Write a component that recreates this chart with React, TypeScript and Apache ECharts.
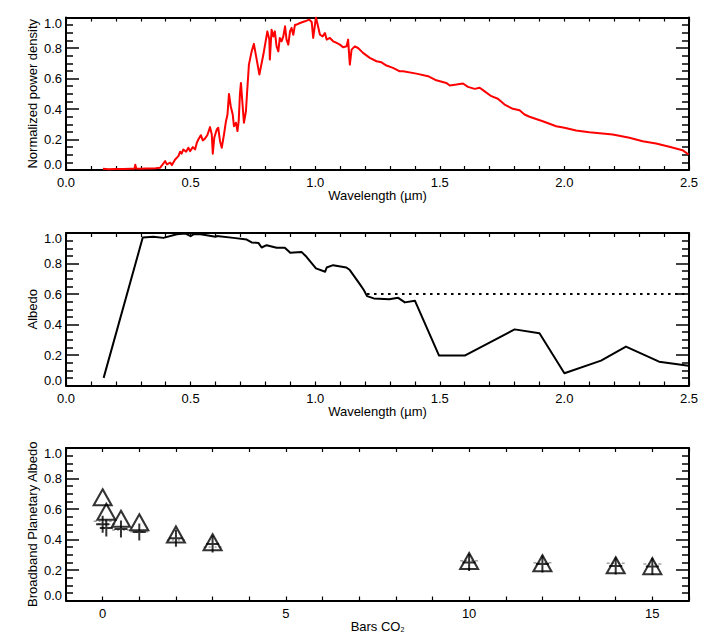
import React, { useEffect, useRef } from "react";
import * as echarts from "echarts";

// ---------- DATA ----------
// Panel 1: normalized solar power density vs wavelength (µm)
const solarSpectrum: [number, number][] = [
  [0.148, 0.008], [0.17, 0.005], [0.2, 0.006], [0.23, 0.006], [0.26, 0.008], [0.275, 0.009],
  [0.278, 0.035], [0.282, 0.01], [0.3, 0.009], [0.32, 0.01], [0.338, 0.01], [0.36, 0.012],
  [0.378, 0.015], [0.398, 0.058], [0.405, 0.037], [0.418, 0.048], [0.425, 0.032], [0.438, 0.069],
  [0.451, 0.091], [0.458, 0.12], [0.464, 0.107], [0.471, 0.135], [0.482, 0.12], [0.491, 0.146],
  [0.498, 0.124], [0.509, 0.15], [0.518, 0.135], [0.525, 0.179], [0.531, 0.2], [0.541, 0.228],
  [0.549, 0.194], [0.558, 0.207], [0.567, 0.228], [0.578, 0.281], [0.585, 0.233], [0.589, 0.107],
  [0.595, 0.211], [0.605, 0.266], [0.611, 0.277], [0.618, 0.189], [0.625, 0.146], [0.634, 0.233],
  [0.642, 0.32], [0.648, 0.364], [0.654, 0.499], [0.661, 0.418], [0.669, 0.364], [0.674, 0.287],
  [0.682, 0.31], [0.688, 0.255], [0.693, 0.32], [0.698, 0.499], [0.702, 0.571], [0.709, 0.418],
  [0.714, 0.31], [0.722, 0.385], [0.727, 0.516], [0.734, 0.691], [0.745, 0.778], [0.754, 0.827],
  [0.764, 0.735], [0.776, 0.626], [0.792, 0.757], [0.808, 0.909], [0.816, 0.855], [0.818, 0.724],
  [0.825, 0.92], [0.832, 0.876], [0.838, 0.909], [0.845, 0.811], [0.852, 0.778], [0.858, 0.866],
  [0.865, 0.844], [0.872, 0.876], [0.879, 0.942], [0.885, 0.855], [0.892, 0.822], [0.899, 0.909],
  [0.905, 0.931], [0.912, 0.887], [0.919, 0.953], [0.925, 0.953], [0.939, 0.964], [0.959, 0.975],
  [0.976, 0.986], [0.986, 0.97], [0.992, 0.866], [0.999, 0.953], [1.003, 1.0], [1.01, 0.953],
  [1.019, 0.887], [1.03, 0.876], [1.039, 0.898], [1.046, 0.855], [1.059, 0.866], [1.072, 0.844],
  [1.086, 0.833], [1.099, 0.822], [1.112, 0.805], [1.126, 0.811], [1.132, 0.855], [1.139, 0.691],
  [1.146, 0.789], [1.159, 0.811], [1.172, 0.8], [1.192, 0.768], [1.219, 0.735], [1.246, 0.713],
  [1.266, 0.706], [1.286, 0.685], [1.312, 0.67], [1.326, 0.658], [1.339, 0.647], [1.353, 0.647],
  [1.406, 0.632], [1.453, 0.615], [1.486, 0.588], [1.526, 0.571], [1.54, 0.554], [1.567, 0.56],
  [1.593, 0.567], [1.613, 0.545], [1.64, 0.532], [1.66, 0.539], [1.68, 0.516], [1.707, 0.484],
  [1.733, 0.467], [1.76, 0.429], [1.793, 0.401], [1.82, 0.392], [1.84, 0.364], [1.86, 0.349],
  [1.913, 0.32], [1.967, 0.287], [2.0, 0.277], [2.047, 0.259], [2.1, 0.248], [2.194, 0.233],
  [2.261, 0.211], [2.314, 0.189], [2.368, 0.174], [2.421, 0.152], [2.474, 0.13], [2.498, 0.102],
];

// Panel 2: surface albedo vs wavelength (µm)
const surfaceAlbedo: [number, number][] = [
  [0.151, 0.05], [0.308, 0.97], [0.351, 0.975], [0.391, 0.968], [0.445, 0.992], [0.478, 0.997],
  [0.5, 0.979], [0.513, 0.992], [0.54, 0.992], [0.6, 0.975], [0.605, 0.98], [0.672, 0.968],
  [0.725, 0.957], [0.745, 0.938], [0.772, 0.935], [0.785, 0.905], [0.805, 0.92], [0.845, 0.903],
  [0.878, 0.903], [0.9, 0.87], [0.945, 0.876], [0.965, 0.844], [1.003, 0.768], [1.04, 0.746],
  [1.046, 0.774], [1.072, 0.789], [1.125, 0.774], [1.139, 0.757], [1.179, 0.665], [1.195, 0.626],
  [1.208, 0.586], [1.235, 0.571], [1.297, 0.565], [1.333, 0.575], [1.36, 0.545], [1.4, 0.556],
  [1.497, 0.196], [1.6, 0.196], [1.8, 0.368], [1.9, 0.342], [2.0, 0.08], [2.147, 0.163],
  [2.247, 0.255], [2.38, 0.156], [2.498, 0.13],
];
const constantAlbedo: [number, number][] = [[1.208, 0.6], [2.5, 0.6]];

// Panel 3: broadband planetary albedo vs bars CO2
const barsCO2 = [0, 0.1, 0.5, 1, 2, 3, 10, 12, 14, 15];
const triangleAlbedo = [0.677, 0.582, 0.536, 0.513, 0.433, 0.382, 0.259, 0.244, 0.231, 0.225];
const plusAlbedo = [0.5, 0.475, 0.469, 0.449, 0.408, 0.37, 0.249, 0.24, 0.226, 0.223];
const dashAlbedo = [0.52, 0.5, 0.462, 0.451, 0.397, 0.351, 0.261, 0.248, 0.244, 0.24];

const yTickValues = [0, 0.2, 0.4, 0.6, 0.8, 1.0];

// ---------- STYLE ----------
const FONT = '"Liberation Sans", Arial, Helvetica, sans-serif';
const FS = 13;
const GRID_LEFT = 66;
const GRID_WIDTH = 623;
const GRID_HEIGHT = 152.5;
const GRID_TOPS = [17.5, 233, 448];

const PLUS_PATH = "path://M5.5,0h2v17h-2z M0,7.5h13v2h-13z";
const DASH_PATH = "path://M0,0h3v1.5h-3z M5,0h2v1.5h-2z M11,0h2v1.5h-2z M15,0h3v1.5h-3z";

function isMultiple(v: number, step: number) {
  const r = v / step;
  return Math.abs(r - Math.round(r)) < 1e-6;
}

function makeXAxes(
  gridIndex: number,
  min: number,
  max: number,
  interval: number,
  labelStep: number,
  decimals: number,
  name: string,
  nameRich?: any
) {
  const common = {
    type: "value",
    gridIndex,
    min,
    max,
    interval,
    splitLine: { show: false },
    axisLine: { show: true, onZero: false, lineStyle: { color: "#000", width: 2 } },
    axisTick: { show: true, inside: true, length: 4, lineStyle: { color: "#000", width: 1.2 } },
  };
  return [
    {
      ...common,
      position: "bottom",
      name,
      nameLocation: "middle",
      nameGap: 19,
      nameMoveOverlap: false,
      nameTextStyle: {
        fontFamily: FONT,
        fontSize: FS,
        color: "#000",
        rich: nameRich,
      },
      axisLabel: {
        show: true,
        margin: 6,
        fontFamily: FONT,
        fontSize: FS,
        color: "#000",
        formatter: (v: number) => (isMultiple(v, labelStep) ? v.toFixed(decimals) : ""),
      },
    },
    {
      ...common,
      position: "top",
      axisLabel: { show: false },
    },
  ];
}

function makeYAxes(gridIndex: number, name: string) {
  const common = {
    type: "value",
    gridIndex,
    min: 0,
    max: 1,
    interval: 0.2,
    splitLine: { show: false },
    minorSplitLine: { show: false },
    axisLine: { show: true, onZero: false, lineStyle: { color: "#000", width: 2 } },
    axisTick: { show: true, inside: true, length: 13, lineStyle: { color: "#000", width: 1.5 } },
    minorTick: { show: true, splitNumber: 4, length: 7, lineStyle: { color: "#000", width: 1.5 } },
  };
  return [
    {
      ...common,
      position: "left",
      name,
      nameLocation: "middle",
      nameGap: 27,
      nameMoveOverlap: false,
      nameTextStyle: { fontFamily: FONT, fontSize: FS, color: "#000" },
      axisLabel: {
        show: true,
        margin: 4,
        fontFamily: FONT,
        fontSize: FS,
        color: "#000",
        customValues: yTickValues,
        formatter: (v: number) => {
          if (Math.abs(v) < 1e-9) return "{lo|0.0}";
          if (Math.abs(v - 1) < 1e-9) return "{hi|1.0}";
          return v.toFixed(1);
        },
        rich: {
          lo: { fontFamily: FONT, fontSize: FS, color: "#000", padding: [0, 0, 11, 0] },
          hi: { fontFamily: FONT, fontSize: FS, color: "#000", padding: [11, 0, 0, 0] },
        },
      },
    },
    {
      ...common,
      position: "right",
      axisLabel: { show: false },
    },
  ];
}

export default function App() {
  const ref = useRef<HTMLDivElement>(null);

  useEffect(() => {
    if (!ref.current) return;
    const chart = echarts.init(ref.current, null, { renderer: "svg" });

    const grids = GRID_TOPS.map((top) => ({
      left: GRID_LEFT,
      top,
      width: GRID_WIDTH,
      height: GRID_HEIGHT,
      containLabel: false,
    }));

    const xAxis = [
      ...makeXAxes(0, 0, 2.5, 0.1, 0.5, 1, "Wavelength (µm)"),
      ...makeXAxes(1, 0, 2.5, 0.1, 0.5, 1, "Wavelength (µm)"),
      ...makeXAxes(2, -1, 16, 1, 5, 0, "Bars CO{sub|2}", {
        sub: { fontFamily: FONT, fontSize: 7, color: "#000", padding: [6, 0, 0, 0] },
      }),
    ];
    const yAxis = [
      ...makeYAxes(0, "Normalized power density"),
      ...makeYAxes(1, "Albedo"),
      ...makeYAxes(2, "Broadband Planetary Albedo"),
    ];

    const option: any = {
      animation: false,
      backgroundColor: "#fff",
      grid: grids,
      xAxis,
      yAxis,
      series: [
        {
          type: "line",
          xAxisIndex: 0,
          yAxisIndex: 0,
          data: solarSpectrum,
          symbol: "none",
          lineStyle: { color: "#ff0000", width: 2, join: "round" },
          z: 3,
        },
        {
          type: "line",
          xAxisIndex: 2,
          yAxisIndex: 2,
          data: surfaceAlbedo,
          symbol: "none",
          lineStyle: { color: "#000", width: 2, join: "round" },
        },
        {
          type: "line",
          xAxisIndex: 2,
          yAxisIndex: 2,
          data: constantAlbedo,
          symbol: "none",
          lineStyle: { color: "#000", width: 2, type: [2.5, 4.5] },
        },
        {
          type: "scatter",
          xAxisIndex: 4,
          yAxisIndex: 4,
          data: barsCO2.map((c, i) => [c, dashAlbedo[i]]),
          symbol: DASH_PATH,
          symbolSize: [18, 1.5],
          itemStyle: { color: "#888" },
          z: 2,
        },
        {
          type: "scatter",
          xAxisIndex: 4,
          yAxisIndex: 4,
          data: barsCO2.map((c, i) => [c, triangleAlbedo[i]]),
          symbol: "triangle",
          symbolSize: [18, 16],
          itemStyle: { color: "rgba(0,0,0,0)", borderColor: "#000", borderWidth: 2 },
          z: 3,
        },
        {
          type: "scatter",
          xAxisIndex: 4,
          yAxisIndex: 4,
          data: barsCO2.map((c, i) => [c, plusAlbedo[i]]),
          symbol: PLUS_PATH,
          symbolSize: [13, 17],
          itemStyle: { color: "#000" },
          z: 4,
        },
      ],
    };

    chart.setOption(option);
    return () => chart.dispose();
  }, []);

  return (
    <div
      ref={ref}
      style={{ position: "absolute", left: 0, top: 0, width: 709, height: 642, background: "#fff" }}
    />
  );
}
